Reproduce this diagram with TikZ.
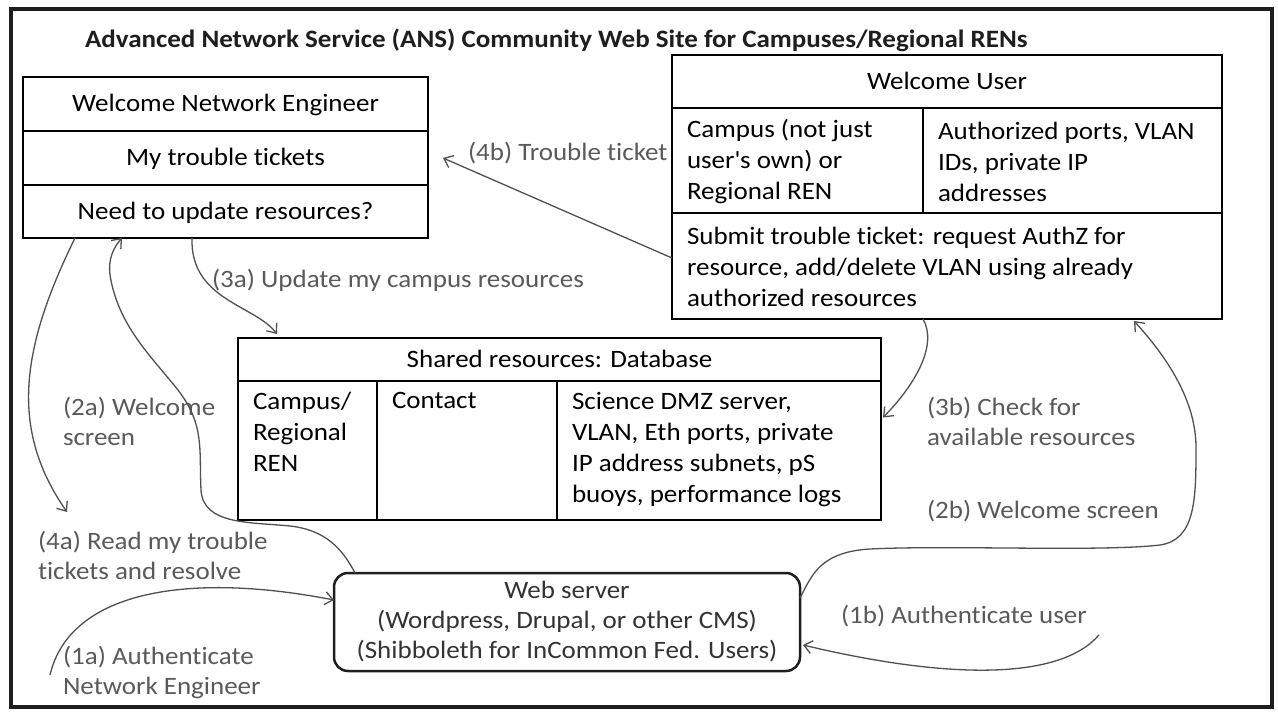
\documentclass[tikz,border=0pt]{standalone}
\usepackage{fontspec}
\setmainfont{Carlito}[FakeStretch=1.08, Ligatures={NoCommon}]
\usetikzlibrary{arrows.meta}
\definecolor{lbl}{HTML}{5A5A5A}
\definecolor{lnk}{HTML}{505050}
\definecolor{frm}{HTML}{1E1E1E}
\definecolor{wst}{HTML}{333333}
\begin{document}
\begin{tikzpicture}[x=1pt,y=-1pt,
  every node/.style={font=\fontsize{25pt}{31pt}\selectfont, inner sep=0pt, outer sep=0pt},
  cell/.style={draw=black, line width=1.5pt, anchor=north west},
  one/.style={text height=20pt, text depth=4pt, align=center},
  txt/.style={align=left},
  lab/.style={text=lbl, align=left, anchor=west, font=\fontsize{25pt}{30pt}\selectfont},
  conn/.style={draw=lnk, line width=1.3pt, -{Straight Barb[length=8pt,width=13pt]}},
]
\useasboundingbox (0,0) rectangle (1278,714);
\fill[white] (0,0) rectangle (1278,714);
\node[draw=frm, line width=3.5pt, minimum width=1261pt, minimum height=698pt, anchor=north west] (frame) at (11,9) {};

% title
\node[anchor=west, text=frm, font=\fontsize{25pt}{31pt}\selectfont\bfseries] (title) at (85,40)
  {Advanced Network Service (ANS) Community Web Site for Campuses/Regional RENs};

% Network engineer box
\node[cell, one, minimum width=405pt, minimum height=54pt] (ne1) at (23,77) {Welcome Network Engineer};
\node[cell, one, minimum width=405pt, minimum height=54pt] (ne2) at (23,131) {My trouble tickets};
\node[cell, one, minimum width=405pt, minimum height=53pt] (ne3) at (23,185) {Need to update resources?};

% User box
\node[cell, one, minimum width=550pt, minimum height=53pt] (u1) at (672,55) {Welcome User};
\node[cell, minimum width=251pt, minimum height=105pt] (u2l) at (672,108) {};
\node[cell, minimum width=299pt, minimum height=105pt] (u2r) at (923,108) {};
\node[cell, minimum width=550pt, minimum height=106pt] (u3) at (672,213) {};
\node[txt, anchor=west] (u2lt) at ([xshift=15pt,yshift=-1pt]u2l.west) {Campus (not just\\user\textquotesingle s own) or\\Regional REN};
\node[txt, anchor=west] (u2rt) at ([xshift=15pt,yshift=-1pt]u2r.west) {Authorized ports, VLAN\\IDs, private IP\\addresses};
\node[txt, anchor=west] (u3t) at ([xshift=15pt,yshift=-1pt]u3.west) {Submit trouble ticket: request AuthZ for\\resource, add/delete VLAN using already\\authorized resources};

% Database box
\node[cell, one, minimum width=643pt, minimum height=43pt] (db0) at (238,338) {Shared resources: Database};
\node[cell, minimum width=139pt, minimum height=139pt] (db1) at (238,381) {};
\node[cell, minimum width=180pt, minimum height=139pt] (db2) at (377,381) {};
\node[cell, minimum width=324pt, minimum height=139pt] (db3) at (557,381) {};
\node[txt, anchor=north west] (db1t) at ([xshift=15pt,yshift=-11pt]db1.north west) {Campus/\\Regional\\REN};
\node[txt, anchor=north west] (db2t) at ([xshift=15pt,yshift=-11pt]db2.north west) {Contact};
\node[txt, anchor=north west] (db3t) at ([xshift=15pt,yshift=-11pt]db3.north west) {Science DMZ server,\\VLAN, Eth ports, private\\IP address subnets, pS\\buoys, performance logs};

% Web server
\node[draw=frm, line width=2.5pt, rounded corners=14pt, minimum width=466pt, minimum height=98pt,
      anchor=north west, align=center, text=wst, font=\fontsize{25pt}{30pt}\selectfont] (ws) at (334,573)
  {Web server\\(Wordpress, Drupal, or other CMS)\\(Shibboleth for InCommon Fed. Users)};

% labels
\node[lab] (l4b) at (468,153) {(4b) Trouble ticket};
\node[lab] (l3a) at (212,280) {(3a) Update my campus resources};
\node[lab] (l2a) at (63,421) {(2a) Welcome\\screen};
\node[lab] (l4a) at (38,555) {(4a) Read my trouble\\tickets and resolve};
\node[lab] (l1a) at (63,673) {(1a) Authenticate\\Network Engineer};
\node[lab] (l3b) at (927,421) {(3b) Check for\\available resources};
\node[lab] (l2b) at (927,511) {(2b) Welcome screen};
\node[lab] (l1b) at (841,616) {(1b) Authenticate user};

% free ends
\coordinate (c2a) at (67,512);
\coordinate (c1a) at (50,675);
\coordinate (c1b) at (1099,635);

% connectors
\draw[conn] ([yshift=8pt]u3.west) -- ([xshift=15pt]ne2.east);
\draw[conn] ([xshift=169pt]ne3.south west) .. controls (190,300) and (255,305) .. ([xshift=39pt,yshift=4pt]db0.north west);
\draw[conn] ([xshift=52pt]ne3.south west) .. controls (20,350) and (10,430) .. (c2a);
\draw[conn] ([xshift=21pt]ws.north west) .. controls (342,548) and (325,530) .. (290,526)
  .. controls (250,522) and (203,525) .. (201,490)
  .. controls (199,450) and (205,425) .. (178,390)
  .. controls (150,355) and (118,325) .. (110,275)
  .. controls (108,258) and (114,247) .. ([xshift=99pt]ne3.south west);
\draw[conn] (c1a) .. controls (70,590) and (190,572) .. ([yshift=22pt]ws.west);
\draw[conn] (c1b) .. controls (1060,680) and (950,680) .. ([xshift=3pt,yshift=-23pt]ws.east);
\draw[conn] ([yshift=-25pt]ws.north east) .. controls (812,575) and (820,552) .. (870,549)
  .. controls (950,545) and (1100,552) .. (1160,545)
  .. controls (1195,540) and (1196,500) .. (1196,450)
  .. controls (1197,400) and (1165,355) .. ([xshift=-88pt,yshift=-2pt]u3.south east);
\draw[conn] ([xshift=-24pt]u3.south) .. controls (938,345) and (915,385) .. ([xshift=2pt,yshift=33pt]db3.east);
\end{tikzpicture}
\end{document}
